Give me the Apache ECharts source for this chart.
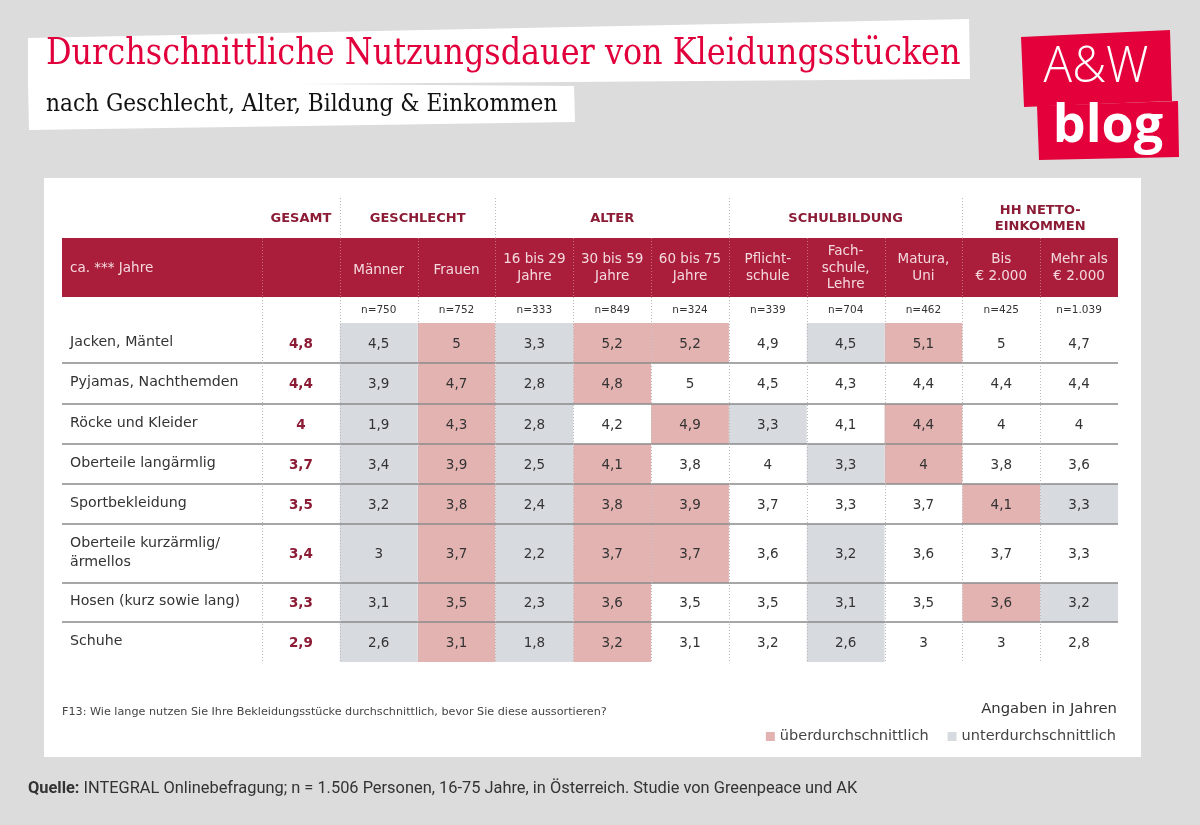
<!DOCTYPE html>
<html><head><meta charset="utf-8">
<script src="https://cdn.jsdelivr.net/npm/echarts@6/dist/echarts.min.js"></script>
<style>html,body{margin:0;padding:0;background:#dcdcdc}#c{width:1200px;height:825px}</style>
</head><body><div id="c"></div>
<script>
// ---------- DATA ----------
const titleText = 'Durchschnittliche Nutzungsdauer von Kleidungsstücken';
const subtitleText = 'nach Geschlecht, Alter, Bildung & Einkommen';
const items = ['Jacken, Mäntel', 'Pyjamas, Nachthemden', 'Röcke und Kleider', 'Oberteile langärmlig',
  'Sportbekleidung', 'Oberteile kurzärmlig/\närmellos', 'Hosen (kurz sowie lang)', 'Schuhe'];
const columns = ['GESAMT', 'Männer', 'Frauen', '16 bis 29\nJahre', '30 bis 59\nJahre', '60 bis 75\nJahre',
  'Pflicht-\nschule', 'Fach-\nschule,\nLehre', 'Matura,\nUni', 'Bis\n€ 2.000', 'Mehr als\n€ 2.000'];
const groupNames = ['GESAMT', 'GESCHLECHT', 'ALTER', 'SCHULBILDUNG', 'HH NETTO-\nEINKOMMEN'];
const groupSpans = [[0, 1], [1, 3], [3, 6], [6, 9], [9, 11]];
const sampleSizes = ['', 'n=750', 'n=752', 'n=333', 'n=849', 'n=324', 'n=339', 'n=704', 'n=462', 'n=425', 'n=1.039'];

const gesamt   = [4.8, 4.4, 4.0, 3.7, 3.5, 3.4, 3.3, 2.9];
const maenner  = [4.5, 3.9, 1.9, 3.4, 3.2, 3.0, 3.1, 2.6];
const frauen   = [5.0, 4.7, 4.3, 3.9, 3.8, 3.7, 3.5, 3.1];
const alter16  = [3.3, 2.8, 2.8, 2.5, 2.4, 2.2, 2.3, 1.8];
const alter30  = [5.2, 4.8, 4.2, 4.1, 3.8, 3.7, 3.6, 3.2];
const alter60  = [5.2, 5.0, 4.9, 3.8, 3.9, 3.7, 3.5, 3.1];
const pflicht  = [4.9, 4.5, 3.3, 4.0, 3.7, 3.6, 3.5, 3.2];
const fach     = [4.5, 4.3, 4.1, 3.3, 3.3, 3.2, 3.1, 2.6];
const matura   = [5.1, 4.4, 4.4, 4.0, 3.7, 3.6, 3.5, 3.0];
const bis2000  = [5.0, 4.4, 4.0, 3.8, 4.1, 3.7, 3.6, 3.0];
const mehr2000 = [4.7, 4.4, 4.0, 3.6, 3.3, 3.3, 3.2, 2.8];

// p = überdurchschnittlich, g = unterdurchschnittlich, - = neutral
const maennerMark  = 'gggggggg';
const frauenMark   = 'pppppppp';
const alter16Mark  = 'gggggggg';
const alter30Mark  = 'pp-ppppp';
const alter60Mark  = 'p-p-pp--';
const pflichtMark  = '--g-----';
const fachMark     = 'g--g-ggg';
const maturaMark   = 'p-pp----';
const bis2000Mark  = '----p-p-';
const mehr2000Mark = '----g-g-';

const legendAbove = 'überdurchschnittlich';
const legendBelow = 'unterdurchschnittlich';
const noteText = 'F13: Wie lange nutzen Sie Ihre Bekleidungsstücke durchschnittlich, bevor Sie diese aussortieren?';
const unitText = 'Angaben in Jahren';
const sourceLabel = 'Quelle:';
const sourceText = ' INTEGRAL Onlinebefragung; n = 1.506 Personen, 16-75 Jahre, in Österreich. Studie von Greenpeace und AK';

// ---------- LAYOUT ----------
const gridLeft = 262, gridRight = 1118, gridTop = 323, gridBottom = 662;
const colW = (gridRight - gridLeft) / columns.length;
const rowWeights = [40, 41, 40, 40, 40, 59, 39, 40];
const FONT = 'DejaVu Sans';
const C = { pink: '#e3b3b2', grey: '#d7dbe0', band: '#aa1e3b', dark: '#8c1b35', text: '#333', line: '#8a8a8a', dot: '#b9b9b9' };

const cum = [0];
rowWeights.forEach(w => cum.push(cum[cum.length - 1] + w));
const fmt = v => String(v).replace('.', ',');

const valueCols = [maenner, frauen, alter16, alter30, alter60, pflicht, fach, matura, bis2000, mehr2000];
const markCols = [maennerMark, frauenMark, alter16Mark, alter30Mark, alter60Mark, pflichtMark, fachMark, maturaMark, bis2000Mark, mehr2000Mark];

const above = [], below = [], neutral = [], total = [];
valueCols.forEach((vals, ci) => {
  vals.forEach((v, ri) => {
    const m = markCols[ci][ri];
    const d = [ci + 1, cum[ri], cum[ri + 1], v];
    (m === 'p' ? above : m === 'g' ? below : neutral).push(d);
  });
});
gesamt.forEach((v, ri) => total.push([0, cum[ri], cum[ri + 1], v]));
const rowData = items.map((name, ri) => [0, cum[ri], cum[ri + 1], ri]);

function cellRenderer(fill, textFill, weight) {
  return function (params, api) {
    const col = api.value(0);
    const pT = api.coord([col, api.value(1)]);
    const pB = api.coord([col, api.value(2)]);
    const w = api.size([1, 0])[0];
    const ch = [];
    if (fill) ch.push({ type: 'rect', shape: { x: pT[0] - w / 2, y: pT[1], width: w, height: pB[1] - pT[1] }, style: { fill: fill } });
    ch.push({ type: 'text', style: { text: fmt(api.value(3)), x: pT[0], y: (pT[1] + pB[1]) / 2 + 1, align: 'center', verticalAlign: 'middle',
      font: weight + ' 13.5px "' + FONT + '"', fill: textFill } });
    return { type: 'group', children: ch };
  };
}

function rowRenderer(params, api) {
  const ri = api.value(3);
  const pT = api.coord([0, api.value(1)]);
  const pB = api.coord([0, api.value(2)]);
  const ch = [{ type: 'text', style: { text: items[ri], x: gridLeft - 192, y: (pT[1] + pB[1]) / 2 - 1, align: 'left', verticalAlign: 'middle',
    font: '14.2px "' + FONT + '"', fill: '#333', lineHeight: 19 } }];
  if (ri < items.length - 1) ch.push({ type: 'line', shape: { x1: 62, y1: pB[1], x2: gridRight, y2: pB[1] }, style: { stroke: C.line, lineWidth: 1.5 } });
  return { type: 'group', children: ch };
}

// ---------- GRAPHICS ----------
const g = [];
g.push({ type: 'rect', z: 0, shape: { x: 44, y: 178, width: 1097, height: 579 }, style: { fill: '#fff' } });
// title boxes
g.push({ type: 'polygon', z: 0, shape: { points: [[28, 38], [969, 19], [970, 79], [28, 86]] }, style: { fill: '#fff' } });
g.push({ type: 'polygon', z: 0, shape: { points: [[28, 82], [574, 86], [575, 122], [29, 130]] }, style: { fill: '#fff' } });
g.push({ type: 'text', z: 1, x: 46, y: 54, style: { text: titleText, font: '37px "DejaVu Serif"', fill: '#e2003c', verticalAlign: 'middle' }, scaleX: 0.862 });
g.push({ type: 'text', z: 1, x: 46, y: 104, style: { text: subtitleText, font: '25px "DejaVu Serif"', fill: '#111', verticalAlign: 'middle' }, scaleX: 0.868 });
// logo
g.push({ type: 'polygon', z: 0, shape: { points: [[1021, 37], [1170, 30], [1172, 101], [1024, 107]] }, style: { fill: '#e4003b' } });
g.push({ type: 'polygon', z: 0, shape: { points: [[1037, 106], [1178, 101], [1179, 157], [1039, 160]] }, style: { fill: '#e4003b' } });
g.push({ type: 'text', z: 1, x: 1096, y: 68, style: { text: 'A&W', font: '300 50px "Open Sans"', fill: '#fff', align: 'center', verticalAlign: 'middle' }, scaleX: 0.95 });
g.push({ type: 'text', z: 1, x: 1108, y: 127, style: { text: 'blog', font: 'bold 52px "Open Sans"', fill: '#fff', align: 'center', verticalAlign: 'middle' } });

// red band
g.push({ type: 'rect', z: 1, shape: { x: 62, y: 238, width: gridRight - 62, height: 59 }, style: { fill: C.band } });
g.push({ type: 'text', z: 2, x: 70, y: 268, style: { text: 'ca. *** Jahre', font: '13.5px "' + FONT + '"', fill: '#f4d9de', verticalAlign: 'middle' } });
const cx = i => gridLeft + (i + 0.5) * colW;
columns.forEach((c, i) => {
  if (i === 0) return;
  const lines = c.split('\n').length;
  g.push({ type: 'text', z: 2, x: cx(i), y: lines === 1 ? 270 : 268, style: { text: c, font: '13.5px "' + FONT + '"', fill: '#f4d9de', align: 'center', verticalAlign: 'middle', lineHeight: 16.5 } });
  g.push({ type: 'text', z: 2, x: cx(i), y: 310, style: { text: sampleSizes[i], font: '10.5px "' + FONT + '"', fill: '#333', align: 'center', verticalAlign: 'middle' } });
});
groupNames.forEach((n, k) => {
  const [a, b] = groupSpans[k];
  const x = gridLeft + (a + b) / 2 * colW;
  g.push({ type: 'text', z: 2, x: x, y: 219, style: { text: n, font: 'bold 13px "' + FONT + '"', fill: C.dark, align: 'center', verticalAlign: 'middle', lineHeight: 16 } });
});
// vertical dotted separators
const groupStarts = groupSpans.map(s => s[0]).slice(1);
for (let i = 0; i < columns.length; i++) {
  const x = Math.round(gridLeft + i * colW) + 0.5;
  if (groupStarts.includes(i)) g.push({ type: 'line', z: 3, shape: { x1: x, y1: 198, x2: x, y2: 238 }, style: { stroke: C.dot, lineWidth: 1, lineDash: [1, 2] } });
  g.push({ type: 'line', z: 3, shape: { x1: x, y1: 238, x2: x, y2: 297 }, style: { stroke: 'rgba(255,255,255,0.35)', lineWidth: 1, lineDash: [1, 2] } });
  g.push({ type: 'line', z: 30, shape: { x1: x, y1: 297, x2: x, y2: gridBottom }, style: { stroke: C.dot, lineWidth: 1, lineDash: [1, 2] } });
}
// notes
g.push({ type: 'text', z: 2, x: 62, y: 712, style: { text: noteText, font: '11.2px "' + FONT + '"', fill: '#444', verticalAlign: 'middle' } });
g.push({ type: 'text', z: 2, x: 1117, y: 709, style: { text: unitText, font: '14.8px "' + FONT + '"', fill: '#333', align: 'right', verticalAlign: 'middle' } });
g.push({ type: 'text', z: 2, x: 28, y: 789, style: { text: '{b|' + sourceLabel + '}' + sourceText, font: '16.4px Roboto', fill: '#333', verticalAlign: 'middle',
  rich: { b: { fontWeight: 'bold', fontSize: 16.4, fontFamily: 'Roboto', fill: '#333' } } } });

const chart = echarts.init(document.getElementById('c'));
chart.setOption({
  backgroundColor: '#dcdcdc',
  animation: false,
  grid: { left: gridLeft, right: 1200 - gridRight, top: gridTop, bottom: 825 - gridBottom },
  xAxis: { type: 'category', data: columns, show: false },
  yAxis: { type: 'value', inverse: true, min: 0, max: cum[cum.length - 1], show: false },
  legend: {
    data: [{ name: legendAbove, icon: 'rect' }, { name: legendBelow, icon: 'rect' }],
    right: 79, top: 724, itemWidth: 9, itemHeight: 9, itemGap: 19, selectedMode: false,
    textStyle: { fontSize: 14.5, fontFamily: FONT, color: '#444' }
  },
  graphic: g,
  series: [
    { type: 'custom', name: legendAbove, z: 5, itemStyle: { color: C.pink }, data: above, renderItem: cellRenderer(C.pink, '#333', 'normal') },
    { type: 'custom', name: legendBelow, z: 5, itemStyle: { color: C.grey }, data: below, renderItem: cellRenderer(C.grey, '#333', 'normal') },
    { type: 'custom', name: 'durchschnittlich', z: 5, data: neutral, renderItem: cellRenderer(null, '#333', 'normal') },
    { type: 'custom', name: 'Gesamt', z: 5, data: total, renderItem: cellRenderer(null, C.dark, 'bold') },
    { type: 'custom', name: 'Kategorien', z: 20, data: rowData, renderItem: rowRenderer }
  ]
});
</script></body></html>
